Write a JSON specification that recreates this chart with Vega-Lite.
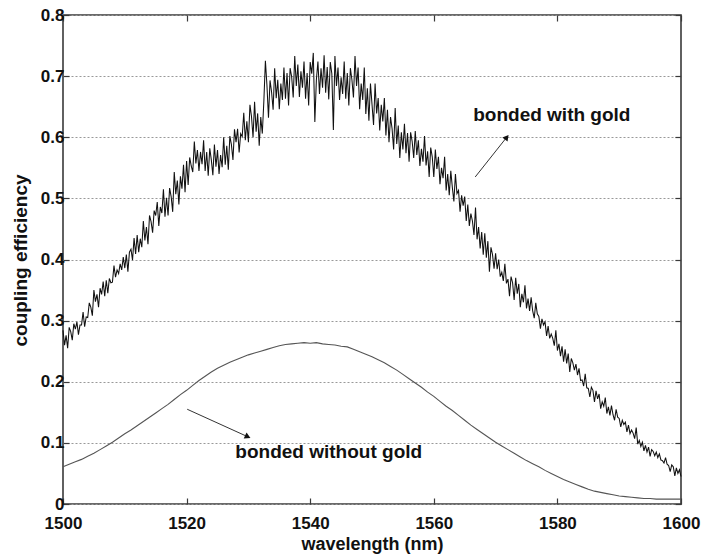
{
"$schema": "https://vega.github.io/schema/vega-lite/v6.json",
"width": 618, "height": 489,
"autosize": {"type": "none"},
"padding": {"left": 63, "top": 15, "right": 23, "bottom": 50},
"background": "white",
"config": {
  "view": {"stroke": "#3a3a3a", "strokeWidth": 1.6},
  "font": "Liberation Sans",
  "axis": {"labelFont": "Liberation Sans", "labelFontWeight": "bold", "labelFontSize": 17, "labelColor": "#111", "labelFlush": false, "titleFont": "Liberation Sans", "titleFontWeight": "bold", "titleColor": "#111", "domain": false, "tickColor": "#3a3a3a", "tickWidth": 1.2}
},
"datasets": {
"gold": [
{"w":1500,"c":0.284},{"w":1500.25,"c":0.26},{"w":1500.5,"c":0.276},{"w":1500.75,"c":0.255},
{"w":1501,"c":0.289},{"w":1501.25,"c":0.282},{"w":1501.5,"c":0.268},{"w":1501.75,"c":0.295},
{"w":1502,"c":0.286},{"w":1502.25,"c":0.298},{"w":1502.5,"c":0.277},{"w":1502.75,"c":0.293},
{"w":1503,"c":0.293},{"w":1503.25,"c":0.314},{"w":1503.5,"c":0.29},{"w":1503.75,"c":0.306},
{"w":1504,"c":0.305},{"w":1504.25,"c":0.329},{"w":1504.5,"c":0.322},{"w":1504.75,"c":0.308},
{"w":1505,"c":0.35},{"w":1505.25,"c":0.331},{"w":1505.5,"c":0.343},{"w":1505.75,"c":0.322},
{"w":1506,"c":0.353},{"w":1506.25,"c":0.343},{"w":1506.5,"c":0.364},{"w":1506.75,"c":0.34},
{"w":1507,"c":0.366},{"w":1507.25,"c":0.345},{"w":1507.5,"c":0.369},{"w":1507.75,"c":0.362},
{"w":1508,"c":0.363},{"w":1508.25,"c":0.39},{"w":1508.5,"c":0.371},{"w":1508.75,"c":0.383},
{"w":1509,"c":0.377},{"w":1509.25,"c":0.393},{"w":1509.5,"c":0.383},{"w":1509.75,"c":0.404},
{"w":1510,"c":0.386},{"w":1510.25,"c":0.408},{"w":1510.5,"c":0.38},{"w":1510.75,"c":0.412},
{"w":1511,"c":0.417},{"w":1511.25,"c":0.399},{"w":1511.5,"c":0.435},{"w":1511.75,"c":0.409},
{"w":1512,"c":0.44},{"w":1512.25,"c":0.412},{"w":1512.5,"c":0.434},{"w":1512.75,"c":0.42},
{"w":1513,"c":0.463},{"w":1513.25,"c":0.431},{"w":1513.5,"c":0.453},{"w":1513.75,"c":0.425},
{"w":1514,"c":0.472},{"w":1514.25,"c":0.462},{"w":1514.5,"c":0.444},{"w":1514.75,"c":0.48},
{"w":1515,"c":0.472},{"w":1515.25,"c":0.494},{"w":1515.5,"c":0.455},{"w":1515.75,"c":0.486},
{"w":1516,"c":0.476},{"w":1516.25,"c":0.515},{"w":1516.5,"c":0.47},{"w":1516.75,"c":0.501},
{"w":1517,"c":0.472},{"w":1517.25,"c":0.517},{"w":1517.5,"c":0.503},{"w":1517.75,"c":0.478},
{"w":1518,"c":0.543},{"w":1518.25,"c":0.507},{"w":1518.5,"c":0.529},{"w":1518.75,"c":0.49},
{"w":1519,"c":0.536},{"w":1519.25,"c":0.516},{"w":1519.5,"c":0.555},{"w":1519.75,"c":0.51},
{"w":1520,"c":0.561},{"w":1520.25,"c":0.522},{"w":1520.5,"c":0.567},{"w":1520.75,"c":0.553},
{"w":1521,"c":0.543},{"w":1521.25,"c":0.593},{"w":1521.5,"c":0.557},{"w":1521.75,"c":0.579},
{"w":1522,"c":0.545},{"w":1522.25,"c":0.576},{"w":1522.5,"c":0.556},{"w":1522.75,"c":0.595},
{"w":1523,"c":0.545},{"w":1523.25,"c":0.576},{"w":1523.5,"c":0.537},{"w":1523.75,"c":0.582},
{"w":1524,"c":0.563},{"w":1524.25,"c":0.538},{"w":1524.5,"c":0.588},{"w":1524.75,"c":0.552},
{"w":1525,"c":0.579},{"w":1525.25,"c":0.54},{"w":1525.5,"c":0.571},{"w":1525.75,"c":0.551},
{"w":1526,"c":0.6},{"w":1526.25,"c":0.555},{"w":1526.5,"c":0.586},{"w":1526.75,"c":0.547},
{"w":1527,"c":0.602},{"w":1527.25,"c":0.588},{"w":1527.5,"c":0.563},{"w":1527.75,"c":0.613},
{"w":1528,"c":0.592},{"w":1528.25,"c":0.614},{"w":1528.5,"c":0.575},{"w":1528.75,"c":0.606},
{"w":1529,"c":0.601},{"w":1529.25,"c":0.64},{"w":1529.5,"c":0.595},{"w":1529.75,"c":0.626},
{"w":1530,"c":0.592},{"w":1530.25,"c":0.653},{"w":1530.5,"c":0.634},{"w":1530.75,"c":0.6},
{"w":1531,"c":0.658},{"w":1531.25,"c":0.609},{"w":1531.5,"c":0.639},{"w":1531.75,"c":0.586},
{"w":1532,"c":0.633},{"w":1532.25,"c":0.606},{"w":1532.5,"c":0.659},{"w":1532.75,"c":0.725},
{"w":1533,"c":0.685},{"w":1533.25,"c":0.632},{"w":1533.5,"c":0.693},{"w":1533.75,"c":0.674},
{"w":1534,"c":0.645},{"w":1534.25,"c":0.713},{"w":1534.5,"c":0.664},{"w":1534.75,"c":0.694},
{"w":1535,"c":0.646},{"w":1535.25,"c":0.688},{"w":1535.5,"c":0.661},{"w":1535.75,"c":0.714},
{"w":1536,"c":0.663},{"w":1536.25,"c":0.705},{"w":1536.5,"c":0.652},{"w":1536.75,"c":0.713},
{"w":1537,"c":0.699},{"w":1537.25,"c":0.665},{"w":1537.5,"c":0.733},{"w":1537.75,"c":0.684},
{"w":1538,"c":0.719},{"w":1538.25,"c":0.666},{"w":1538.5,"c":0.708},{"w":1538.75,"c":0.681},
{"w":1539,"c":0.724},{"w":1539.25,"c":0.663},{"w":1539.5,"c":0.705},{"w":1539.75,"c":0.652},
{"w":1540,"c":0.723},{"w":1540.25,"c":0.704},{"w":1540.5,"c":0.738},{"w":1540.75,"c":0.625},
{"w":1541,"c":0.694},{"w":1541.25,"c":0.724},{"w":1541.5,"c":0.671},{"w":1541.75,"c":0.713},
{"w":1542,"c":0.681},{"w":1542.25,"c":0.734},{"w":1542.5,"c":0.673},{"w":1542.75,"c":0.715},
{"w":1543,"c":0.662},{"w":1543.25,"c":0.723},{"w":1543.5,"c":0.704},{"w":1543.75,"c":0.612},
{"w":1544,"c":0.733},{"w":1544.25,"c":0.684},{"w":1544.5,"c":0.714},{"w":1544.75,"c":0.661},
{"w":1545,"c":0.698},{"w":1545.25,"c":0.671},{"w":1545.5,"c":0.724},{"w":1545.75,"c":0.663},
{"w":1546,"c":0.705},{"w":1546.25,"c":0.652},{"w":1546.5,"c":0.713},{"w":1546.75,"c":0.694},
{"w":1547,"c":0.665},{"w":1547.25,"c":0.733},{"w":1547.5,"c":0.684},{"w":1547.75,"c":0.714},
{"w":1548,"c":0.646},{"w":1548.25,"c":0.688},{"w":1548.5,"c":0.661},{"w":1548.75,"c":0.714},
{"w":1549,"c":0.638},{"w":1549.25,"c":0.68},{"w":1549.5,"c":0.627},{"w":1549.75,"c":0.688},
{"w":1550,"c":0.654},{"w":1550.25,"c":0.62},{"w":1550.5,"c":0.688},{"w":1550.75,"c":0.639},
{"w":1551,"c":0.664},{"w":1551.25,"c":0.611},{"w":1551.5,"c":0.653},{"w":1551.75,"c":0.626},
{"w":1552,"c":0.664},{"w":1552.25,"c":0.603},{"w":1552.5,"c":0.645},{"w":1552.75,"c":0.592},
{"w":1553,"c":0.633},{"w":1553.25,"c":0.614},{"w":1553.5,"c":0.58},{"w":1553.75,"c":0.648},
{"w":1554,"c":0.589},{"w":1554.25,"c":0.619},{"w":1554.5,"c":0.566},{"w":1554.75,"c":0.608},
{"w":1555,"c":0.58},{"w":1555.25,"c":0.622},{"w":1555.5,"c":0.574},{"w":1555.75,"c":0.607},
{"w":1556,"c":0.56},{"w":1556.25,"c":0.608},{"w":1556.5,"c":0.593},{"w":1556.75,"c":0.566},
{"w":1557,"c":0.61},{"w":1557.25,"c":0.571},{"w":1557.5,"c":0.595},{"w":1557.75,"c":0.553},
{"w":1558,"c":0.581},{"w":1558.25,"c":0.56},{"w":1558.5,"c":0.602},{"w":1558.75,"c":0.554},
{"w":1559,"c":0.577},{"w":1559.25,"c":0.535},{"w":1559.5,"c":0.583},{"w":1559.75,"c":0.568},
{"w":1560,"c":0.535},{"w":1560.25,"c":0.58},{"w":1560.5,"c":0.548},{"w":1560.75,"c":0.568},
{"w":1561,"c":0.523},{"w":1561.25,"c":0.55},{"w":1561.5,"c":0.533},{"w":1561.75,"c":0.568},
{"w":1562,"c":0.513},{"w":1562.25,"c":0.54},{"w":1562.5,"c":0.505},{"w":1562.75,"c":0.545},
{"w":1563,"c":0.518},{"w":1563.25,"c":0.495},{"w":1563.5,"c":0.54},{"w":1563.75,"c":0.508},
{"w":1564,"c":0.513},{"w":1564.25,"c":0.478},{"w":1564.5,"c":0.505},{"w":1564.75,"c":0.488},
{"w":1565,"c":0.503},{"w":1565.25,"c":0.463},{"w":1565.5,"c":0.49},{"w":1565.75,"c":0.455},
{"w":1566,"c":0.475},{"w":1566.25,"c":0.463},{"w":1566.5,"c":0.44},{"w":1566.75,"c":0.485},
{"w":1567,"c":0.433},{"w":1567.25,"c":0.453},{"w":1567.5,"c":0.418},{"w":1567.75,"c":0.445},
{"w":1568,"c":0.408},{"w":1568.25,"c":0.443},{"w":1568.5,"c":0.403},{"w":1568.75,"c":0.43},
{"w":1569,"c":0.38},{"w":1569.25,"c":0.42},{"w":1569.5,"c":0.408},{"w":1569.75,"c":0.385},
{"w":1570,"c":0.41},{"w":1570.25,"c":0.384},{"w":1570.5,"c":0.4},{"w":1570.75,"c":0.372},
{"w":1571,"c":0.379},{"w":1571.25,"c":0.365},{"w":1571.5,"c":0.393},{"w":1571.75,"c":0.361},
{"w":1572,"c":0.368},{"w":1572.25,"c":0.34},{"w":1572.5,"c":0.372},{"w":1572.75,"c":0.362},
{"w":1573,"c":0.334},{"w":1573.25,"c":0.37},{"w":1573.5,"c":0.344},{"w":1573.75,"c":0.36},
{"w":1574,"c":0.322},{"w":1574.25,"c":0.344},{"w":1574.5,"c":0.33},{"w":1574.75,"c":0.358},
{"w":1575,"c":0.32},{"w":1575.25,"c":0.336},{"w":1575.5,"c":0.316},{"w":1575.75,"c":0.338},
{"w":1576,"c":0.316},{"w":1576.25,"c":0.304},{"w":1576.5,"c":0.329},{"w":1576.75,"c":0.311},
{"w":1577,"c":0.307},{"w":1577.25,"c":0.287},{"w":1577.5,"c":0.303},{"w":1577.75,"c":0.293},
{"w":1578,"c":0.298},{"w":1578.25,"c":0.275},{"w":1578.5,"c":0.291},{"w":1578.75,"c":0.271},
{"w":1579,"c":0.278},{"w":1579.25,"c":0.271},{"w":1579.5,"c":0.259},{"w":1579.75,"c":0.284},
{"w":1580,"c":0.251},{"w":1580.25,"c":0.262},{"w":1580.5,"c":0.242},{"w":1580.75,"c":0.258},
{"w":1581,"c":0.233},{"w":1581.25,"c":0.253},{"w":1581.5,"c":0.23},{"w":1581.75,"c":0.246},
{"w":1582,"c":0.216},{"w":1582.25,"c":0.238},{"w":1582.5,"c":0.231},{"w":1582.75,"c":0.219},
{"w":1583,"c":0.229},{"w":1583.25,"c":0.211},{"w":1583.5,"c":0.222},{"w":1583.75,"c":0.202},
{"w":1584,"c":0.203},{"w":1584.25,"c":0.193},{"w":1584.5,"c":0.213},{"w":1584.75,"c":0.19},
{"w":1585,"c":0.189},{"w":1585.25,"c":0.175},{"w":1585.5,"c":0.191},{"w":1585.75,"c":0.186},
{"w":1586,"c":0.167},{"w":1586.25,"c":0.185},{"w":1586.5,"c":0.172},{"w":1586.75,"c":0.18},
{"w":1587,"c":0.156},{"w":1587.25,"c":0.167},{"w":1587.5,"c":0.16},{"w":1587.75,"c":0.174},
{"w":1588,"c":0.148},{"w":1588.25,"c":0.159},{"w":1588.5,"c":0.145},{"w":1588.75,"c":0.161},
{"w":1589,"c":0.146},{"w":1589.25,"c":0.137},{"w":1589.5,"c":0.155},{"w":1589.75,"c":0.142},
{"w":1590,"c":0.14},{"w":1590.25,"c":0.126},{"w":1590.5,"c":0.137},{"w":1590.75,"c":0.13},
{"w":1591,"c":0.134},{"w":1591.25,"c":0.118},{"w":1591.5,"c":0.129},{"w":1591.75,"c":0.115},
{"w":1592,"c":0.121},{"w":1592.25,"c":0.116},{"w":1592.5,"c":0.107},{"w":1592.75,"c":0.125},
{"w":1593,"c":0.098},{"w":1593.25,"c":0.104},{"w":1593.5,"c":0.094},{"w":1593.75,"c":0.101},
{"w":1594,"c":0.087},{"w":1594.25,"c":0.096},{"w":1594.5,"c":0.085},{"w":1594.75,"c":0.093},
{"w":1595,"c":0.078},{"w":1595.25,"c":0.089},{"w":1595.5,"c":0.086},{"w":1595.75,"c":0.079},
{"w":1596,"c":0.085},{"w":1596.25,"c":0.076},{"w":1596.5,"c":0.082},{"w":1596.75,"c":0.072},
{"w":1597,"c":0.071},{"w":1597.25,"c":0.067},{"w":1597.5,"c":0.076},{"w":1597.75,"c":0.065},
{"w":1598,"c":0.063},{"w":1598.25,"c":0.053},{"w":1598.5,"c":0.064},{"w":1598.75,"c":0.061},
{"w":1599,"c":0.046},{"w":1599.25,"c":0.059},{"w":1599.5,"c":0.05},{"w":1599.75,"c":0.056},
{"w":1600,"c":0.045}
],
"nogold": [
{"w":1500,"c":0.061},{"w":1501,"c":0.065},{"w":1502,"c":0.069},{"w":1503,"c":0.073},{"w":1504,"c":0.078},
{"w":1505,"c":0.083},{"w":1506,"c":0.089},{"w":1507,"c":0.095},{"w":1508,"c":0.101},{"w":1509,"c":0.108},
{"w":1510,"c":0.115},{"w":1511,"c":0.121},{"w":1512,"c":0.128},{"w":1513,"c":0.135},{"w":1514,"c":0.142},
{"w":1515,"c":0.149},{"w":1516,"c":0.156},{"w":1517,"c":0.163},{"w":1518,"c":0.171},{"w":1519,"c":0.179},
{"w":1520,"c":0.186},{"w":1521,"c":0.194},{"w":1522,"c":0.202},{"w":1523,"c":0.209},{"w":1524,"c":0.216},
{"w":1525,"c":0.222},{"w":1526,"c":0.227},{"w":1527,"c":0.232},{"w":1528,"c":0.236},{"w":1529,"c":0.24},
{"w":1530,"c":0.244},{"w":1531,"c":0.247},{"w":1532,"c":0.25},{"w":1533,"c":0.253},{"w":1534,"c":0.256},
{"w":1535,"c":0.259},{"w":1536,"c":0.261},{"w":1537,"c":0.262},{"w":1538,"c":0.263},{"w":1539,"c":0.264},
{"w":1540,"c":0.263},{"w":1541,"c":0.264},{"w":1542,"c":0.262},{"w":1543,"c":0.261},{"w":1544,"c":0.26},
{"w":1545,"c":0.258},{"w":1546,"c":0.257},{"w":1547,"c":0.253},{"w":1548,"c":0.249},{"w":1549,"c":0.245},
{"w":1550,"c":0.241},{"w":1551,"c":0.236},{"w":1552,"c":0.231},{"w":1553,"c":0.225},{"w":1554,"c":0.219},
{"w":1555,"c":0.212},{"w":1556,"c":0.205},{"w":1557,"c":0.198},{"w":1558,"c":0.191},{"w":1559,"c":0.183},
{"w":1560,"c":0.176},{"w":1561,"c":0.168},{"w":1562,"c":0.16},{"w":1563,"c":0.153},{"w":1564,"c":0.145},
{"w":1565,"c":0.137},{"w":1566,"c":0.129},{"w":1567,"c":0.122},{"w":1568,"c":0.115},{"w":1569,"c":0.108},
{"w":1570,"c":0.101},{"w":1571,"c":0.095},{"w":1572,"c":0.089},{"w":1573,"c":0.083},{"w":1574,"c":0.077},
{"w":1575,"c":0.071},{"w":1576,"c":0.066},{"w":1577,"c":0.061},{"w":1578,"c":0.055},{"w":1579,"c":0.05},
{"w":1580,"c":0.045},{"w":1581,"c":0.04},{"w":1582,"c":0.036},{"w":1583,"c":0.032},{"w":1584,"c":0.028},
{"w":1585,"c":0.024},{"w":1586,"c":0.021},{"w":1587,"c":0.019},{"w":1588,"c":0.017},{"w":1589,"c":0.015},
{"w":1590,"c":0.013},{"w":1591,"c":0.012},{"w":1592,"c":0.011},{"w":1593,"c":0.01},{"w":1594,"c":0.009},
{"w":1595,"c":0.009},{"w":1596,"c":0.008},{"w":1597,"c":0.008},{"w":1598,"c":0.008},{"w":1599,"c":0.008},
{"w":1600,"c":0.008}
],
"labels": [
{"label":"bonded with gold","w":1579.1,"c":0.636},
{"label":"bonded without gold","w":1543.0,"c":0.085}
],
"arrows": [
{"w":1566.7,"c":0.535,"w2":1571.8,"c2":0.600,"ang":38.7},
{"w":1520.1,"c":0.155,"w2":1529.9,"c2":0.110,"ang":114.7}
]
},
"layer": [
{
  "data": {"name": "nogold"},
  "mark": {"type": "line", "color": "#555", "strokeWidth": 1.1},
  "encoding": {
    "x": {"field": "w", "type": "quantitative", "scale": {"domain": [1500, 1600], "nice": false, "zero": false},
      "axis": {"orient": "bottom", "values": [1500,1520,1540,1560,1580,1600], "format": "d", "tickSize": -6, "labelPadding": 17, "grid": false, "title": "wavelength (nm)", "titleFontSize": 18, "titleY": 40, "titleBaseline": "middle"}},
    "y": {"field": "c", "type": "quantitative", "scale": {"domain": [0, 0.8], "nice": false},
      "axis": {"orient": "left", "values": [0,0.1,0.2,0.3,0.4,0.5,0.6,0.7,0.8], "labelExpr": "datum.value == 0 ? '0' : format(datum.value, '.1f')", "tickSize": -6, "labelPadding": 5, "grid": true, "gridDash": [2,2], "gridColor": "#999", "gridWidth": 1, "title": "coupling efficiency", "titleFontSize": 19, "titleX": -43, "titleY": 245, "titleAngle": -90, "titleBaseline": "middle", "titleAlign": "center"}}
  }
},
{
  "data": {"name": "gold"},
  "mark": {"type": "line", "color": "#111", "strokeWidth": 1.05},
  "encoding": {
    "x": {"field": "w", "type": "quantitative", "axis": {"orient": "top", "values": [1500,1520,1540,1560,1580,1600], "tickSize": -6, "labels": false, "grid": false, "title": null}},
    "y": {"field": "c", "type": "quantitative", "axis": {"orient": "right", "values": [0,0.1,0.2,0.3,0.4,0.5,0.6,0.7,0.8], "tickSize": -6, "labels": false, "grid": false, "title": null}}
  }
},
{
  "data": {"name": "labels"},
  "mark": {"type": "text", "font": "Liberation Sans", "fontWeight": "bold", "fontSize": 19, "color": "#111", "align": "center", "baseline": "middle"},
  "encoding": {
    "x": {"field": "w", "type": "quantitative", "axis": null},
    "y": {"field": "c", "type": "quantitative", "axis": null},
    "text": {"field": "label"}
  }
},
{
  "data": {"name": "arrows"},
  "mark": {"type": "rule", "color": "#333", "strokeWidth": 1},
  "encoding": {
    "x": {"field": "w", "type": "quantitative", "axis": null},
    "y": {"field": "c", "type": "quantitative", "axis": null},
    "x2": {"field": "w2"},
    "y2": {"field": "c2"}
  }
},
{
  "data": {"name": "arrows"},
  "mark": {"type": "point", "shape": "triangle-up", "filled": true, "color": "#111", "size": 45, "opacity": 1},
  "encoding": {
    "x": {"field": "w2", "type": "quantitative", "axis": null},
    "y": {"field": "c2", "type": "quantitative", "axis": null},
    "angle": {"field": "ang", "type": "quantitative", "scale": null}
  }
}
],
"resolve": {"axis": {"x": "independent", "y": "independent"}}
}
